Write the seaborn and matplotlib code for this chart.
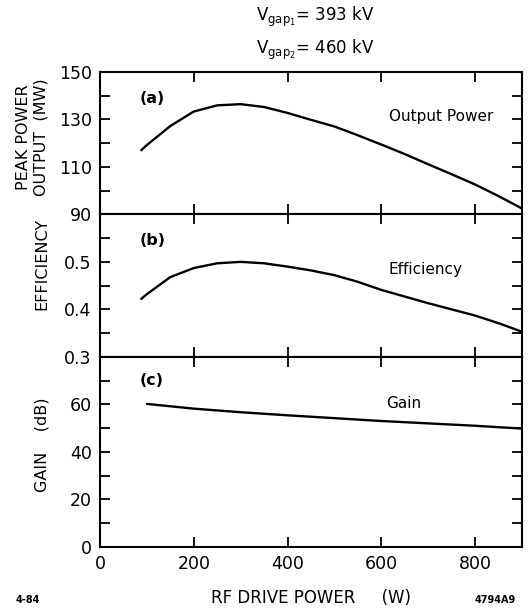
import numpy as np
import pandas as pd
import matplotlib
matplotlib.use("Agg")
import matplotlib.pyplot as plt
import seaborn as sns

# valeurs
drive_w = [88, 100, 150, 200, 250, 300, 350, 400, 450, 500, 550, 600, 650, 700, 750, 800, 850, 900]
output_mw = [117.0, 119.2, 127.2, 133.3, 135.9, 136.4, 135.2, 132.7, 129.8, 127.0, 123.3, 119.4, 115.4,
             111.1, 106.9, 102.6, 97.7, 92.5]
efficiency = [0.422, 0.432, 0.468, 0.487, 0.497, 0.500, 0.497, 0.490, 0.482, 0.472, 0.458, 0.441, 0.427,
              0.413, 0.400, 0.387, 0.371, 0.353]
gain_w = [100, 200, 300, 400, 500, 600, 700, 800, 900]
gain_db = [60.2, 58.2, 56.7, 55.4, 54.2, 53.0, 52.0, 51.0, 49.8]

x_ticks = [0, 200, 400, 600, 800]

sns.set_style("ticks")
plt.rcParams['font.family'] = ['DejaVu Sans']
plt.rcParams['mathtext.fontset'] = 'dejavusans'
for k in ['text.color', 'axes.labelcolor', 'xtick.color', 'ytick.color', 'axes.edgecolor']:
    plt.rcParams[k] = 'black'

fig = plt.figure(figsize=(5.32, 6.09), dpi=100)
gs = fig.add_gridspec(3, 1, height_ratios=[3, 3, 4], hspace=0,
                      left=0.188, right=0.981, top=0.882, bottom=0.102)
ax_a = fig.add_subplot(gs[0])
ax_b = fig.add_subplot(gs[1], sharex=ax_a)
ax_c = fig.add_subplot(gs[2], sharex=ax_a)

df_a = pd.DataFrame({'W': drive_w, 'P': output_mw})
df_b = pd.DataFrame({'W': drive_w, 'E': efficiency})
df_c = pd.DataFrame({'W': gain_w, 'G': gain_db})

sns.lineplot(data=df_a, x='W', y='P', ax=ax_a, color='black', linewidth=1.7)
sns.lineplot(data=df_b, x='W', y='E', ax=ax_b, color='black', linewidth=1.7)
sns.lineplot(data=df_c, x='W', y='G', ax=ax_c, color='black', linewidth=1.7)

ax_a.set_ylim(90, 150)
ax_a.set_yticks([90, 110, 130, 150])
ax_a.set_yticks([100, 120, 140], minor=True)
ax_b.set_ylim(0.3, 0.6)
ax_b.set_yticks([0.3, 0.4, 0.5])
ax_b.set_yticks([0.35, 0.45, 0.55], minor=True)
ax_c.set_ylim(0, 80)
ax_c.set_yticks([0, 20, 40, 60])
ax_c.set_yticks([10, 30, 50, 70], minor=True)

ax_c.set_xlim(0, 900)
ax_c.set_xticks(x_ticks)

for ax in (ax_a, ax_b, ax_c):
    for s in ax.spines.values():
        s.set_linewidth(1.5)
        s.set_visible(True)
    ax.tick_params(which='both', direction='in', top=True, right=True, length=7, width=1.3,
                   labelsize=12.5, pad=6)
    ax.set_xlabel('')
    ax.set_ylabel('')
for ax in (ax_a, ax_b):
    ax.tick_params(axis='x', labelbottom=False)

ax_a.text(85, 137, '(a)', fontsize=11.5, fontweight='bold')
ax_a.text(728, 131.3, 'Output Power', fontsize=11, ha='center', va='center')
ax_b.text(85, 0.544, '(b)', fontsize=11.5, fontweight='bold', va='center')
ax_b.text(694, 0.484, 'Efficiency', fontsize=11, ha='center', va='center')
ax_c.text(85, 70, '(c)', fontsize=11.5, fontweight='bold', va='center')
ax_c.text(647, 60.3, 'Gain', fontsize=11, ha='center', va='center')

ax_a.set_ylabel('PEAK POWER\nOUTPUT  (MW)', fontsize=11.5, linespacing=1.25)
ax_a.yaxis.set_label_coords(-0.122, 0.54)
ax_b.set_ylabel('EFFICIENCY', fontsize=11.5)
ax_b.yaxis.set_label_coords(-0.12, 0.65)
ax_c.set_ylabel('GAIN    (dB)', fontsize=11.5)
ax_c.yaxis.set_label_coords(-0.12, 0.54)

ax_c.set_xlabel('RF DRIVE POWER     (W)', fontsize=12)
ax_c.xaxis.set_label_coords(0.5, -0.22)

fig.text(0.592, 0.972, r'$\mathregular{V_{gap_1}}$= 393 kV', ha='center', va='center', fontsize=12)
fig.text(0.592, 0.918, r'$\mathregular{V_{gap_2}}$= 460 kV', ha='center', va='center', fontsize=12)
fig.text(0.053, 0.015, '4-84', fontsize=7, fontweight='bold', ha='center', va='center')
fig.text(0.93, 0.015, '4794A9', fontsize=7, fontweight='bold', ha='center', va='center')

plt.savefig('out.png', dpi=100)
plt.close()
